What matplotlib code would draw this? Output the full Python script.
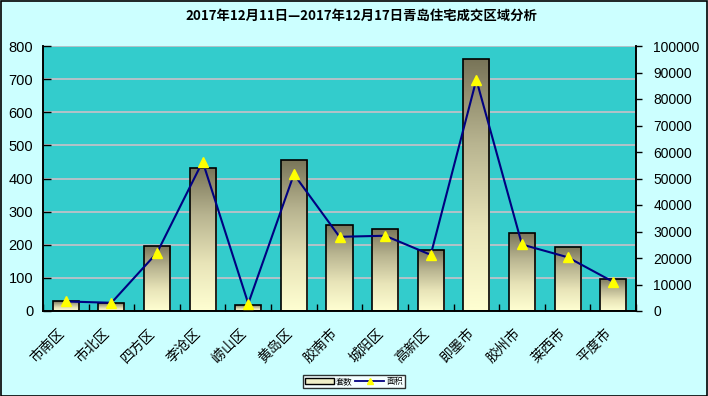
import matplotlib
matplotlib.use("Agg")
import matplotlib.pyplot as plt
import numpy as np
from matplotlib.patches import Rectangle, Patch
from matplotlib.lines import Line2D
from matplotlib.colors import LinearSegmentedColormap
from matplotlib.transforms import ScaledTranslation

plt.rcParams['font.family'] = ['Noto Sans CJK SC', 'DejaVu Sans']

title = "2017年12月11日—2017年12月17日青岛住宅成交区域分析"
categories = ["市南区", "市北区", "四方区", "李沧区", "崂山区", "黄岛区", "胶南市",
              "城阳区", "高新区", "即墨市", "胶州市", "莱西市", "平度市"]
units = [30, 24, 197, 433, 18, 457, 261, 248, 185, 760, 236, 194, 97]
area = [3600, 3100, 22000, 56400, 2800, 51600, 28000, 28400, 21200, 87300, 25100, 20300, 11000]
left_ticks = [0, 100, 200, 300, 400, 500, 600, 700, 800]
right_ticks = [0, 10000, 20000, 30000, 40000, 50000, 60000, 70000, 80000, 90000, 100000]
legend_labels = ["套数", "面积"]

W, H = 708, 396
fig = plt.figure(figsize=(W / 100, H / 100), dpi=100)
fig.patch.set_facecolor("#CCFFFF")
fig.add_artist(Rectangle((0.5 / W, 0.5 / H), (W - 1.5) / W, (H - 1.5) / H,
                         transform=fig.transFigure, fill=False, edgecolor="black", lw=1.2))

px0, px1, py0, py1 = 43, 636, 46, 311
ax = fig.add_axes([px0 / W, (H - py1) / H, (px1 - px0) / W, (py1 - py0) / H])
ax.set_facecolor("#33CCCC")
ax2 = ax.twinx()

x = np.arange(len(categories))

for v in left_ticks[1:]:
    ax.axhline(v, color="#C8C0C8", lw=1.2, zorder=0.5)

cmap = LinearSegmentedColormap.from_list("g", ["#FFFFD2", "#E8E4B8", "#B8B490", "#787458"])
bars = ax.bar(x, units, width=0.57, facecolor="none", edgecolor="black", lw=1.2, zorder=3)
grad = np.linspace(0, 1, 256).reshape(-1, 1)
for b in bars:
    x0, y0 = b.get_x(), b.get_y()
    w, h = b.get_width(), b.get_height()
    im = ax.imshow(grad, extent=(x0, x0 + w, y0, y0 + h), origin="lower", cmap=cmap,
                   aspect="auto", zorder=2)
    im.set_clip_path(b)
ax.set_xlim(-0.5, len(categories) - 0.5)
ax.set_ylim(0, 800)
ax2.set_ylim(0, 100000)

ax2.plot(x, area, color="#000080", lw=1.5, marker="^", markersize=7,
         markerfacecolor="#FFFF00", markeredgecolor="#FFFF00", zorder=5)

ax.set_yticks(left_ticks)
ax.set_yticklabels([str(v) for v in left_ticks], fontsize=10.5, family="Liberation Sans")
ax.tick_params(axis="y", direction="in", length=6, width=1, pad=7)
ax2.set_yticks(right_ticks)
ax2.set_yticklabels([str(v) for v in right_ticks], fontsize=10, family="Liberation Sans")
ax2.tick_params(axis="y", direction="out", length=4, width=1, pad=8.5)

ax.set_xticks(np.arange(len(categories) + 1) - 0.5, minor=False)
ax.set_xticklabels([])
ax.tick_params(axis="x", direction="in", length=5, width=1)
ax.set_xticks(x, minor=True)
ax.set_xticklabels(categories, minor=True, rotation=45, ha="right", va="top",
                   rotation_mode="anchor", fontsize=10)
ax.tick_params(axis="x", which="minor", length=0, pad=11)
off = ScaledTranslation(-9 / 100, 0, fig.dpi_scale_trans)
for lbl in ax.get_xticklabels(minor=True):
    lbl.set_transform(lbl.get_transform() + off)

for a in (ax, ax2):
    a.spines["top"].set_visible(False)
    for s in ("left", "bottom", "right"):
        a.spines[s].set_color("black")
        a.spines[s].set_linewidth(1.2)

fig.text(361 / W, 1 - 16 / H, title, ha="center", va="center", fontsize=9.6,
         fontweight="bold")

handles = [Patch(facecolor="#F0F0C8", edgecolor="black", lw=1),
           Line2D([0], [0], color="#000080", lw=1.3, marker="^", markersize=5,
                  markerfacecolor="#FFFF00", markeredgecolor="#FFFF00")]
leg = fig.legend(handles, legend_labels, loc="center", bbox_to_anchor=(354 / W, 1 - 381.5 / H),
                 ncol=2, fontsize=6, frameon=True, fancybox=False, handlelength=3.5,
                 handleheight=0.6, borderpad=0.25, columnspacing=0.3, handletextpad=0.2)
leg.get_frame().set_edgecolor("black")
leg.get_frame().set_facecolor("white")
leg.get_frame().set_linewidth(1)

fig.savefig("out.png", dpi=100, facecolor=fig.get_facecolor())
